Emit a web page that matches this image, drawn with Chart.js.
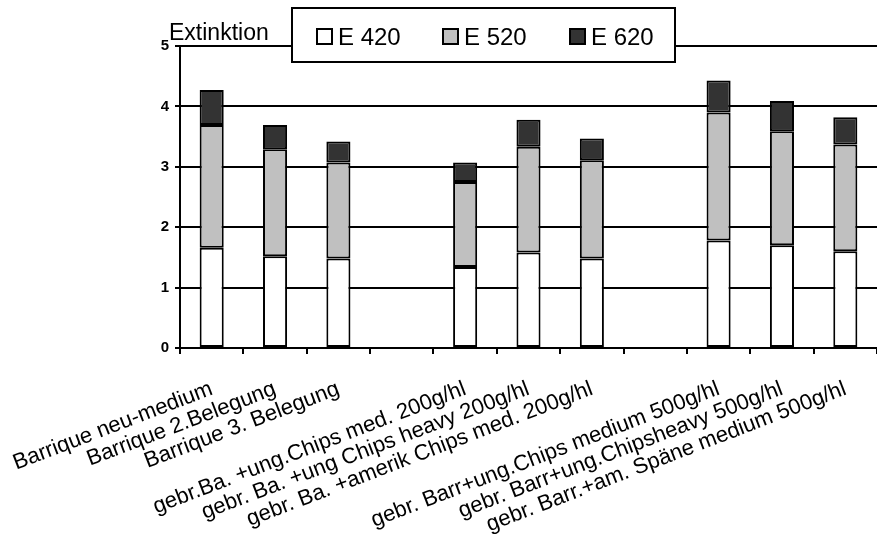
<!DOCTYPE html>
<html>
<head>
<meta charset="utf-8">
<script src="https://cdn.jsdelivr.net/npm/chart.js@4/dist/chart.umd.min.js"></script>
<style>
html,body{margin:0;padding:0;background:#fff;}
#wrap{width:877px;height:544px;position:relative;}
</style>
</head>
<body>
<div id="wrap"><canvas id="c" width="877" height="544"></canvas></div>
<script>
const categories = ['Barrique neu-medium','Barrique 2.Belegung','Barrique 3. Belegung','','gebr.Ba. +ung.Chips med. 200g/hl','gebr. Ba. +ung Chips heavy 200g/hl','gebr. Ba. +amerik Chips med. 200g/hl','','gebr. Barr+ung.Chips medium 500g/hl','gebr. Barr+ung.Chipsheavy 500g/hl','gebr. Barr.+am. Späne medium 500g/hl'];
const e420 = [1.66,1.52,1.48,null,1.34,1.58,1.48,null,1.78,1.70,1.60];
const e520 = [2.03,1.77,1.59,null,1.41,1.75,1.63,null,2.12,1.89,1.77];
const e620 = [0.58,0.40,0.35,null,0.32,0.45,0.36,null,0.53,0.50,0.45];
const yTicks = [0,1,2,3,4,5];
const axisTitle = 'Extinktion';

const FONT = '"Liberation Sans", Arial, sans-serif';

const overlay = {
  id: 'overlay',
  afterDraw(chart) {
    const ctx = chart.ctx;
    ctx.save();
    ctx.fillStyle = '#000';
    ctx.font = '23px ' + FONT;
    ctx.textAlign = 'left';
    ctx.textBaseline = 'alphabetic';
    ctx.fillText(axisTitle, 169, 40);
    const bx = 292, by = 8, bw = 383, bh = 54;
    ctx.fillStyle = '#fff';
    ctx.fillRect(bx, by, bw, bh);
    ctx.lineWidth = 2;
    ctx.strokeStyle = '#000';
    ctx.strokeRect(bx, by, bw, bh);
    const sx = [317, 443, 570];
    const cy = 37;
    chart.data.datasets.forEach((ds, i) => {
      ctx.fillStyle = ds.backgroundColor;
      ctx.fillRect(sx[i], cy - 8, 15, 15);
      ctx.lineWidth = 2;
      ctx.strokeStyle = '#000';
      ctx.strokeRect(sx[i], cy - 8, 15, 15);
      ctx.fillStyle = '#000';
      ctx.font = '24px ' + FONT;
      ctx.textBaseline = 'middle';
      ctx.fillText(ds.label, sx[i] + 21, cy + 1);
    });
    ctx.restore();
  }
};

new Chart(document.getElementById('c'), {
  type: 'bar',
  data: {
    labels: categories,
    datasets: [
      {label: 'E 420', data: e420, backgroundColor: '#ffffff', borderColor: '#000', borderWidth: 2, borderSkipped: false},
      {label: 'E 520', data: e520, backgroundColor: '#c0c0c0', borderColor: '#000', borderWidth: 2, borderSkipped: false},
      {label: 'E 620', data: e620, backgroundColor: '#333333', borderColor: '#000', borderWidth: 2, borderSkipped: false}
    ]
  },
  options: {
    responsive: false,
    animation: false,
    devicePixelRatio: 1,
    layout: {padding: {top: 46, right: 0, left: 0, bottom: 0}},
    datasets: {bar: {categoryPercentage: 1, barPercentage: 0.38}},
    plugins: {legend: {display: false}, tooltip: {enabled: false}},
    scales: {
      x: {
        stacked: true,
        offset: true,
        grid: {offset: true, drawOnChartArea: false, drawTicks: true, tickLength: 6, color: '#000', lineWidth: 2},
        border: {display: true, color: '#000', width: 2},
        ticks: {autoSkip: false, minRotation: 21, maxRotation: 21, color: '#000', font: {family: FONT, size: 22}, padding: 22},
        afterFit(s) { s.height = 196; s.paddingLeft = 0; s.paddingRight = 0; }
      },
      y: {
        stacked: true,
        min: 0, max: 5,
        afterBuildTicks(s) { s.ticks = yTicks.map(v => ({value: v})); },
        grid: {color: '#000', lineWidth: 2, tickLength: 5, drawTicks: true},
        border: {display: true, color: '#000', width: 2},
        ticks: {color: '#000', font: {family: FONT, size: 15, weight: 'bold'}, padding: 6},
        afterFit(s) { s.width = 180; s.paddingTop = 0; s.paddingBottom = 0; }
      }
    }
  },
  plugins: [overlay]
});
</script>
</body>
</html>
